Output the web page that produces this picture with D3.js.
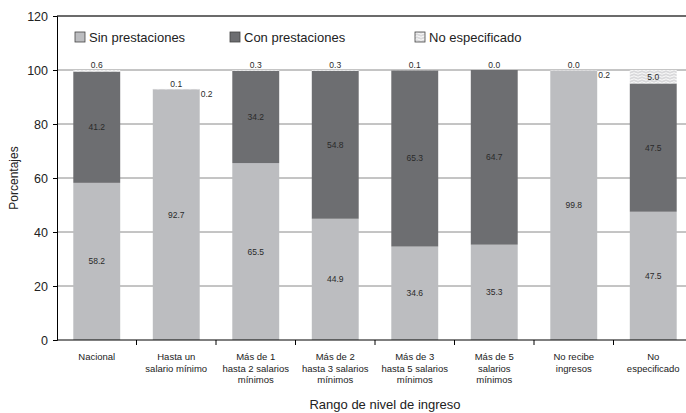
<!DOCTYPE html>
<html>
<head>
<meta charset="utf-8">
<script src="https://cdn.jsdelivr.net/npm/d3@7"></script>
<style>
  body { margin: 0; background: #fff; }
  text { font-family: "Liberation Sans", Arial, sans-serif; }
</style>
</head>
<body>
<svg id="chart" width="686" height="413"></svg>
<script>
var categories = [
    ["Nacional"],
    ["Hasta un", "salario mínimo"],
    ["Más de 1", "hasta 2 salarios", "mínimos"],
    ["Más de 2", "hasta 3 salarios", "mínimos"],
    ["Más de 3", "hasta 5 salarios", "mínimos"],
    ["Más de 5", "salarios", "mínimos"],
    ["No recibe", "ingresos"],
    ["No", "especificado"]
];
var sinPrest = [58.2, 92.7, 65.5, 44.9, 34.6, 35.3, 99.8, 47.5];
var conPrest = [41.2, 0.1, 34.2, 54.8, 65.3, 64.7, 0.0, 47.5];
var noEspec = [0.6, 0.2, 0.3, 0.3, 0.1, 0.0, 0.2, 5.0];
var yTicks = [0, 20, 40, 60, 80, 100, 120];
var legendNames = ["Sin prestaciones", "Con prestaciones", "No especificado"];

function drawChart() {
    var svg = d3.select("#chart");
    var left = 57, right = 693, top = 16, bottom = 340;

    var x = d3.scaleBand()
        .domain(d3.range(categories.length))
        .range([left, right])
        .paddingInner(0.41)
        .paddingOuter(0.205);
    var y = d3.scaleLinear().domain([0, 120]).range([bottom, top]);

    // pattern for "No especificado"
    var pat = svg.append("defs").append("pattern")
        .attr("id", "wavy")
        .attr("patternUnits", "userSpaceOnUse")
        .attr("width", 8).attr("height", 3);
    pat.append("rect").attr("width", 8).attr("height", 3).attr("fill", "#d9d9db");
    pat.append("path")
        .attr("d", "M0,1.5 Q2,0 4,1.5 T8,1.5")
        .attr("fill", "none").attr("stroke", "#fff").attr("stroke-width", 0.9);

    // gridlines
    svg.append("g")
        .selectAll("line")
        .data(yTicks.filter(function(d) { return d > 0; }))
        .enter()
        .append("line")
        .attr("x1", left).attr("x2", right)
        .attr("y1", function(d) { return y(d); })
        .attr("y2", function(d) { return y(d); })
        .attr("stroke", function(d) { return d == 120 ? "#3a3a3a" : "#8a8a8a"; })
        .attr("stroke-width", function(d) { return d == 120 ? 1.3 : 1; });

    var colors = ["#bcbdc0", "#6d6e71", "url(#wavy)"];
    var series = [sinPrest, conPrest, noEspec];

    var stacks = categories.map(function(c, i) {
        var y0 = 0;
        return series.map(function(s, k) {
            var seg = { i: i, k: k, v: s[i], y0: y0, y1: y0 + s[i] };
            y0 += s[i];
            return seg;
        });
    });

    var bars = svg.append("g").selectAll("g")
        .data(stacks)
        .enter().append("g");

    bars.selectAll("rect")
        .data(function(d) { return d; })
        .enter()
        .append("rect")
        .attr("x", function(d) { return x(d.i); })
        .attr("width", x.bandwidth())
        .attr("y", function(d) { return y(d.y1); })
        .attr("height", function(d) { return y(d.y0) - y(d.y1); })
        .attr("fill", function(d) { return colors[d.k]; });

    // value labels
    var labels = [];
    stacks.forEach(function(st, i) {
        var cx = x(i) + x.bandwidth() / 2;
        var topV = st[2].y1;
        labels.push({ x: cx, y: y(st[0].y0 + st[0].v / 2) + 3, t: st[0].v.toFixed(1), a: "middle" });
        if (st[1].v < 1) {
            labels.push({ x: cx, y: y(topV) - 2, t: st[1].v.toFixed(1), a: "middle" });
            labels.push({ x: x(i) + x.bandwidth() + 1, y: y(topV) + 8, t: st[2].v.toFixed(1), a: "start" });
        } else {
            labels.push({ x: cx, y: y(st[1].y0 + st[1].v / 2) + 3, t: st[1].v.toFixed(1), a: "middle" });
            if (st[2].v >= 2) {
                labels.push({ x: cx, y: y(st[2].y0 + st[2].v / 2) + 3, t: st[2].v.toFixed(1), a: "middle" });
            } else {
                labels.push({ x: cx, y: y(topV) - 2, t: st[2].v.toFixed(1), a: "middle" });
            }
        }
    });
    svg.append("g").selectAll("text")
        .data(labels)
        .enter()
        .append("text")
        .attr("x", function(d) { return d.x; })
        .attr("y", function(d) { return d.y; })
        .attr("text-anchor", function(d) { return d.a; })
        .attr("font-size", 8.5)
        .attr("fill", "#2a2a2a")
        .text(function(d) { return d.t; });

    // y axis
    var yAxis = svg.append("g")
        .attr("transform", "translate(" + left + ",0)")
        .call(d3.axisLeft(y).tickValues(yTicks).tickSize(4).tickPadding(5));
    yAxis.select(".domain").attr("stroke", "#000");
    yAxis.selectAll("text").attr("font-size", 12.5).attr("fill", "#222")
        .style("font-family", "Liberation Sans, Arial, sans-serif");

    // x axis
    var xLine = svg.append("g");
    xLine.append("line")
        .attr("x1", left).attr("x2", right)
        .attr("y1", bottom).attr("y2", bottom)
        .attr("stroke", "#000");
    var bounds = d3.range(1, categories.length).map(function(i) {
        return x(i) - x.step() * x.paddingInner() / 2;
    });
    xLine.selectAll(".tk")
        .data(bounds)
        .enter()
        .append("line")
        .attr("x1", function(d) { return d; }).attr("x2", function(d) { return d; })
        .attr("y1", bottom).attr("y2", bottom + 5)
        .attr("stroke", "#000");

    svg.append("g").selectAll("text")
        .data(categories)
        .enter()
        .append("text")
        .attr("x", function(d, i) { return x(i) + x.bandwidth() / 2; })
        .attr("y", 360)
        .attr("text-anchor", "middle")
        .attr("font-size", 9.5)
        .attr("fill", "#222")
        .selectAll("tspan")
        .data(function(d) { return d; })
        .enter()
        .append("tspan")
        .attr("x", function() { return d3.select(this.parentNode).attr("x"); })
        .attr("dy", function(d, j) { return j == 0 ? 0 : 11.7; })
        .text(function(d) { return d; });

    // axis titles
    svg.append("text")
        .attr("x", 385).attr("y", 409)
        .attr("text-anchor", "middle")
        .attr("font-size", 13)
        .attr("fill", "#222")
        .text("Rango de nivel de ingreso");
    svg.append("text")
        .attr("transform", "translate(18,178) rotate(-90)")
        .attr("text-anchor", "middle")
        .attr("font-size", 12)
        .attr("fill", "#222")
        .text("Porcentajes");

    // legend
    var legendX = [75, 230, 415];
    var leg = svg.append("g").selectAll("g")
        .data(legendNames)
        .enter()
        .append("g")
        .attr("transform", function(d, i) { return "translate(" + legendX[i] + ",32)"; });
    leg.append("rect")
        .attr("width", 10).attr("height", 10)
        .attr("fill", function(d, i) { return colors[i]; })
        .attr("stroke", "#444").attr("stroke-width", 0.8);
    leg.append("text")
        .attr("x", 14).attr("y", 10)
        .attr("font-size", 13)
        .attr("fill", "#222")
        .text(function(d) { return d; });
}

drawChart();
</script>
</body>
</html>
